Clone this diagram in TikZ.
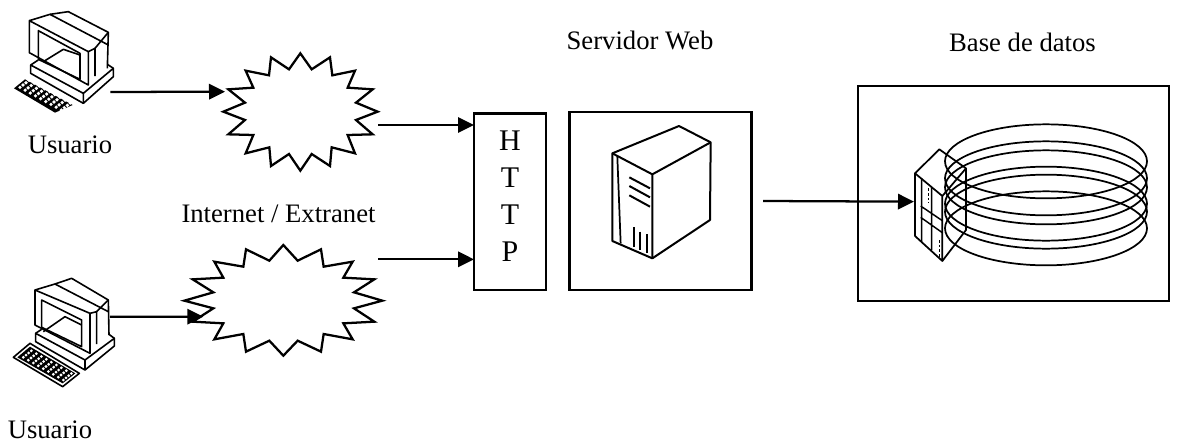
\documentclass[tikz,border=0pt]{standalone}
\usepackage{fontspec}
\setmainfont{Liberation Serif}
\usetikzlibrary{arrows.meta}
\tikzset{
  lbl/.style={font=\fontsize{20pt}{22pt}\selectfont,anchor=base,inner sep=0pt},
  boxn/.style={draw,line width=1.7pt,inner sep=0pt,outer sep=0pt,anchor=north west},
  arr/.style={line width=1.7pt,-{Triangle[length=12pt,width=11.5pt]}},
  cloudl/.style={line width=1.7pt,miter limit=10,fill=white},
  art/.style={line width=1.2pt,line join=round},
}
\begin{document}
\begin{tikzpicture}[x=.75pt,y=-.75pt]
\useasboundingbox (0,0) rectangle (1186,443);
% labels
\node[lbl] (u1) at (70,153) {Usuario};
\node[lbl] (u2) at (50,438) {Usuario};
\node[lbl] (net) at (278.5,222) {Internet / Extranet};
\node[lbl] (srv) at (640,49) {Servidor Web};
\node[lbl] (bd) at (1022.5,51) {Base de datos};
% boxes
\node[boxn,minimum width=54pt,minimum height=132.5pt] (http) at (474,113.5) {};
\node[align=center,inner sep=0pt,font=\fontsize{22.5pt}{27.75pt}\selectfont] (httpt) at (510,196.5) {H\\T\\T\\P};
\node[boxn,minimum width=136.5pt,minimum height=133.5pt] (web) at (569.5,112) {};
\node[boxn,minimum width=233.25pt,minimum height=161.25pt] (db) at (858,86) {};
% cloud 1
\begin{scope}[shift={(200,40)},scale=1/3]
\draw[cloudl] (301,40)--(335,88)--(390,52)--(397,106)--(465,92)--(443,143)--(518,148)--(468,188)--(533,215)--(468,240)--(518,283)--(443,285)--(465,340)--(395,322)--(390,378)--(335,342)--(301,392)--(267,342)--(213,378)--(208,322)--(137,340)--(160,285)--(85,283)--(135,240)--(70,215)--(135,188)--(85,148)--(160,143)--(137,92)--(207,106)--(213,52)--(267,88)--cycle;
\coordinate (c1in) at (75,155);
\coordinate (c1out) at (535,255);
\end{scope}
% cloud 2
\begin{scope}[shift={(170,240)},scale=1/3]
\draw[cloudl] (340,15)--(383,62)--(453,28)--(461,80)--(548,65)--(520,113)--(613,118)--(552,157)--(637,182)--(552,205)--(613,245)--(520,250)--(548,298)--(461,282)--(453,335)--(383,302)--(340,347)--(298,302)--(228,335)--(220,282)--(133,298)--(160,250)--(68,245)--(130,205)--(43,182)--(130,157)--(68,118)--(160,113)--(133,65)--(220,80)--(228,28)--(298,62)--cycle;
\coordinate (c2in) at (100,230);
\coordinate (c2out) at (625,58);
\end{scope}
% server
\begin{scope}[shift={(590,110)},scale=1/3]
\draw[line width=1.5pt,line join=round] (67,130)--(267,48)--(362,97)--(360,330)--(187,445)--(67,393)--cycle;
\draw[line width=1.5pt,line join=round] (67,130)--(187,193)--(362,97) (187,193)--(187,445);
\draw[line width=1.3pt] (82,140)--(92,400);
\draw[line width=1.5pt] (118,202)--(180,235) (118,228)--(180,262) (118,256)--(180,290);
\draw[line width=1.5pt] (133,352)--(133,412) (150,365)--(150,420) (170,372)--(170,430);
\coordinate (webout) at (519,273);
\end{scope}
% database
\begin{scope}[shift={(890,110)},scale=1/3]
\foreach \cy in {154,205,232,281,305,355}
  \draw[line width=1.3pt] (468,\cy) ellipse [x radius=303,y radius=111];
\draw[line width=1.3pt,line join=round,fill=white] (75,190)--(157,258)--(157,453)--(75,378)--cycle;
\draw[line width=1.3pt,line join=round] (75,190)--(148,118)--(228,175)--(157,258) (228,175)--(228,360)--(157,453);
\draw[line width=1.1pt] (95,205)--(95,395) (125,232)--(125,420) (92,288)--(157,332) (92,322)--(157,368);
\draw[line width=.5pt,dash pattern=on 2pt off 1.5pt] (115,235)--(115,280) (147,390)--(147,445);
\coordinate (dbin) at (72,275);
\end{scope}
% PC 1
\begin{scope}[shift={(0,0)},scale=1/3]
\draw[art] (88,62)--(150,43)--(205,35)--(325,97)--(322,205);
\draw[art] (88,62)--(88,158)--(265,255)--(265,155)--cycle;
\draw[art] (150,43)--(325,135) (285,145)--(325,97);
\draw[art] (265,155)--(285,145)--(285,228);
\draw[art] (115,92)--(240,160)--(240,238)--(115,178)--cycle;
\draw[art] (130,185)--(190,148)--(240,165);
\draw[art] (92,195)--(92,220)--(250,310)--(340,230)--(340,205)--(250,280)--cycle;
\draw[art] (250,280)--(250,310) (92,195)--(115,180) (322,193)--(340,205);
\fill[black] (42,265)--(75,238)--(218,315)--(165,338)--cycle;
\foreach \i in {0,...,8}\foreach \j in {0,...,3}
  \fill[white] ({60+\i*15.5+\j*9},{262+\i*8.5-\j*7}) circle [radius=5.5];
\coordinate (p1out) at (331,276);
\end{scope}
% PC 2
\begin{scope}[shift={(0,270)},scale=1/3]
\draw[art] (105,60)--(165,42)--(215,25)--(325,90)--(327,195);
\draw[art] (105,60)--(105,165)--(270,250)--(270,130)--cycle;
\draw[art] (165,42)--(325,125) (290,125)--(325,90);
\draw[art] (270,130)--(290,125)--(290,222);
\draw[art] (125,90)--(245,150)--(245,230)--(125,172)--cycle;
\draw[art] (130,185)--(195,140)--(245,165);
\draw[art] (107,190)--(107,215)--(255,300)--(343,228)--(343,205)--(255,270)--cycle;
\draw[art] (255,270)--(255,300) (107,190)--(125,178) (327,193)--(343,205);
\draw[art] (40,262)--(90,220)--(238,310)--(188,350)--cycle;
\fill[black] (52,262)--(90,230)--(226,310)--(188,340)--cycle;
\foreach \i in {0,...,8}\foreach \j in {0,...,3}
  \fill[white] ({70+\i*15+\j*8},{262+\i*8.5-\j*6.5}) circle [radius=4.6];
\coordinate (p2out) at (330,140);
\end{scope}
% connectors
\draw[arr] (p1out) -- (c1in);
\draw[arr] (p2out) -- (c2in);
\draw[arr] (c1out) -- (c1out -| http.west);
\draw[arr] (c2out) -- (c2out -| http.west);
\draw[arr] (webout) -- (dbin);
\end{tikzpicture}
\end{document}
